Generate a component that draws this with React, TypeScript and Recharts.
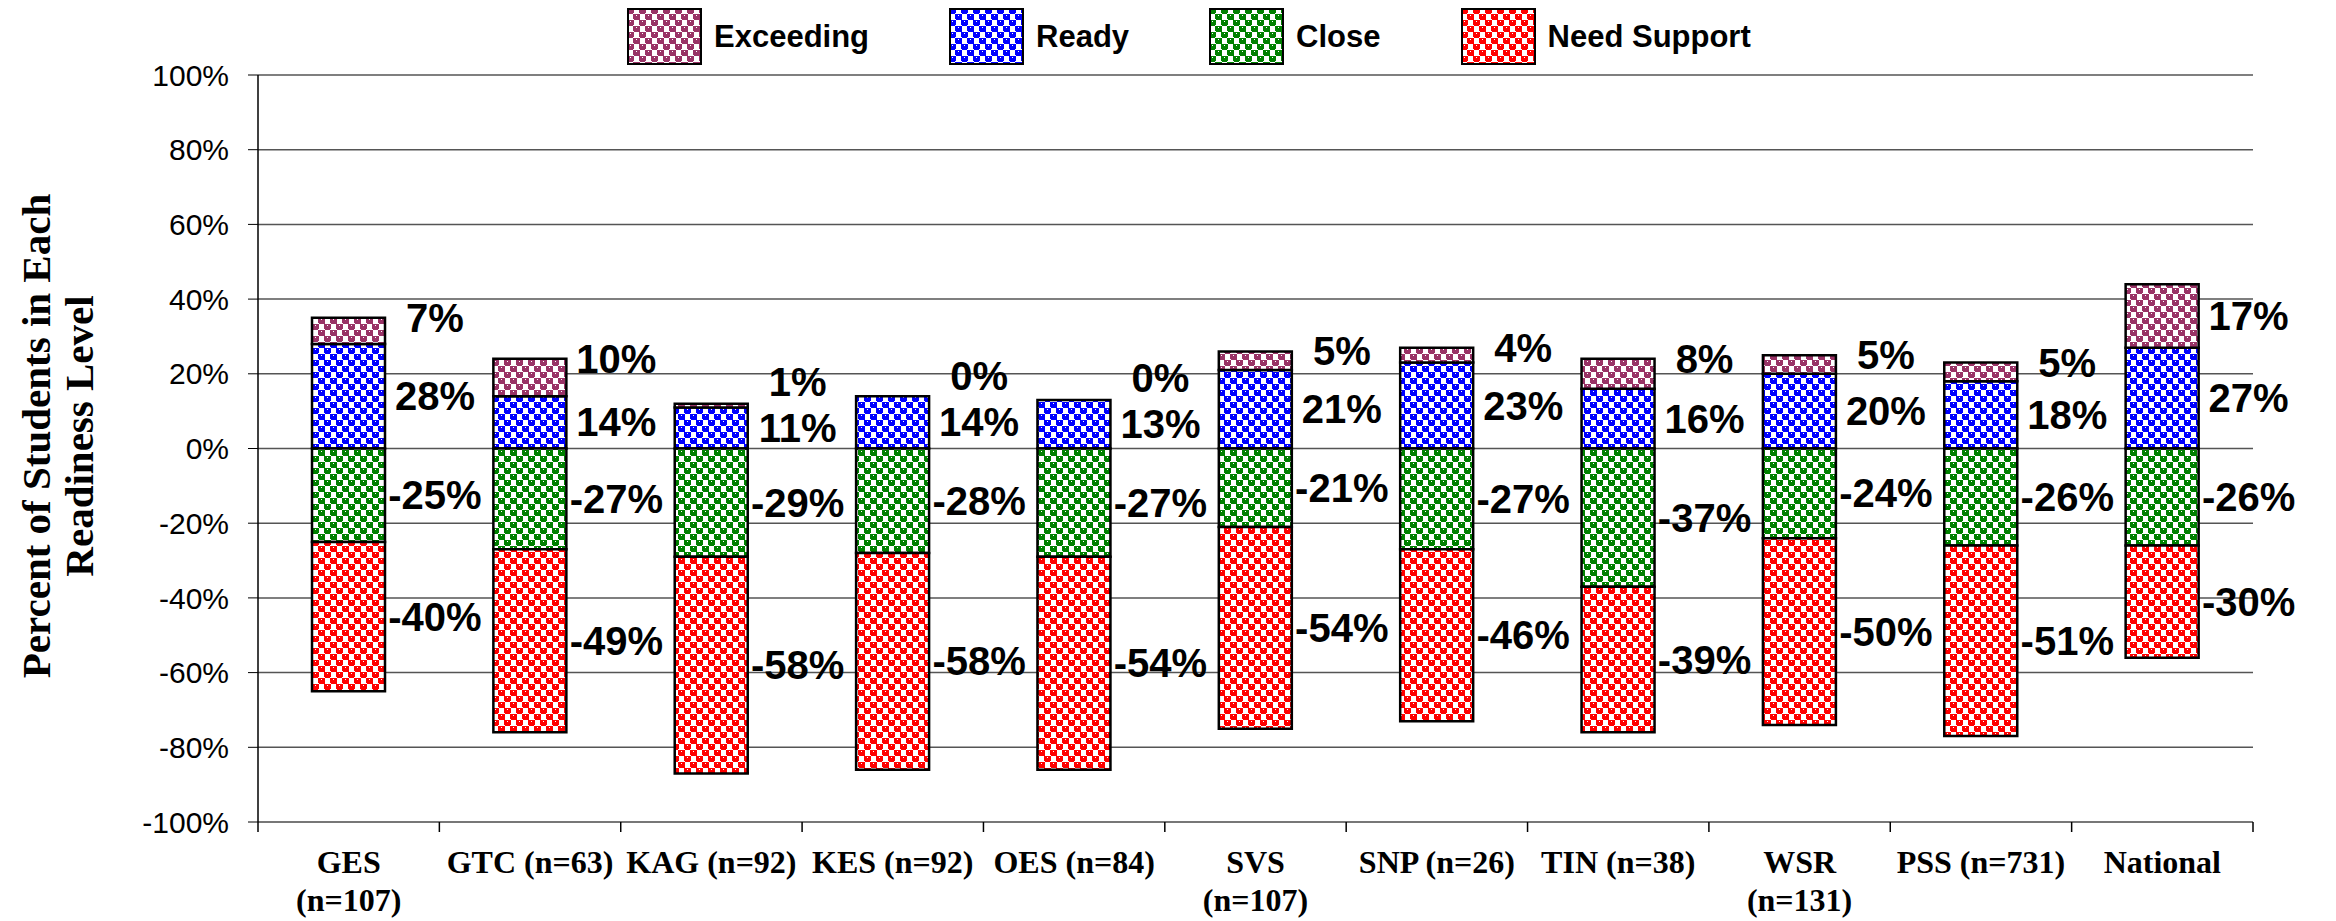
import React from "react";
import { Bar, BarChart, CartesianGrid, LabelList, XAxis, YAxis } from "recharts";

document.body.style.margin = "0";

const categories = [
  "GES\n(n=107)",
  "GTC (n=63)",
  "KAG (n=92)",
  "KES (n=92)",
  "OES (n=84)",
  "SVS\n(n=107)",
  "SNP (n=26)",
  "TIN (n=38)",
  "WSR\n(n=131)",
  "PSS (n=731)",
  "National",
];

const exceeding = [7, 10, 1, 0, 0, 5, 4, 8, 5, 5, 17];
const ready = [28, 14, 11, 14, 13, 21, 23, 16, 20, 18, 27];
const close = [-25, -27, -29, -28, -29, -21, -27, -37, -24, -26, -26];
const needSupport = [-40, -49, -58, -58, -57, -54, -46, -39, -50, -51, -30];

// printed labels (OES labels don't match its bar lengths in the source)
const closeShown = [-25, -27, -29, -28, -27, -21, -27, -37, -24, -26, -26];
const needShown = [-40, -49, -58, -58, -54, -54, -46, -39, -50, -51, -30];

const yTicks = [-100, -80, -60, -40, -20, 0, 20, 40, 60, 80, 100];

const W = 2336;
const H = 921;
const M = { top: 75, right: 83, bottom: 0, left: 0 };
const Y_AXIS_W = 258;
const X_AXIS_H = 99;
const PLOT_TOP = M.top;
const PLOT_BOTTOM = H - X_AXIS_H;
const ZERO_Y = (PLOT_TOP + PLOT_BOTTOM) / 2;
const BAND = (W - Y_AXIS_W - M.right) / categories.length;

const SANS = '"Liberation Sans", Arial, sans-serif';
const SERIF = '"Liberation Serif", "Times New Roman", serif';

const series = [
  { key: "ready", name: "Ready", color: "#0000FF", shown: ready },
  { key: "exceeding", name: "Exceeding", color: "#993366", shown: exceeding },
  { key: "close", name: "Close", color: "#008000", shown: closeShown },
  { key: "need", name: "Need Support", color: "#FF0000", shown: needShown },
];
const legendOrder = ["exceeding", "ready", "close", "need"];

const data = categories.map((name, i) => ({
  name,
  exceeding: exceeding[i],
  ready: ready[i],
  close: close[i],
  need: needSupport[i],
}));

function PatternDefs() {
  return (
    <svg width={0} height={0} style={{ position: "absolute" }}>
      <defs>
        {series.map((s) => (
          <pattern
            key={s.key}
            id={`pat-${s.key}`}
            width={12}
            height={12}
            patternUnits="userSpaceOnUse"
          >
            <rect width={12} height={12} fill="#fff" />
            <path
              d="M0 0h7v5h-7z M1 5h5v1h-5z M6 6h6v5h-6z M0 6h1v5h-1z M7 11h5v1h-5z M0 11h1v1h-1z"
              fill={s.color}
            />
            <path d="M3 1h1v1h-1z M9 7h1v1h-1z" fill="#fff" />
          </pattern>
        ))}
      </defs>
    </svg>
  );
}

function DataText({ x, y, text }: { x: number; y: number; text: string }) {
  return (
    <text
      x={x}
      y={y}
      textAnchor="middle"
      dominantBaseline="central"
      fontFamily={SANS}
      fontWeight="bold"
      fontSize={40}
      fill="#000"
    >
      {text}
    </text>
  );
}

// where the Exceeding label sits, given the top of the stack and the top of Ready
function exceedLabelY(i: number, top: number, readyTop: number) {
  let cy = exceeding[i] < 12 ? top : (top + readyTop) / 2;
  const readyMid = (readyTop + ZERO_Y) / 2;
  if (readyMid - cy < 46) cy = readyMid - 46;
  return cy;
}

function makeLabel(key: string, shown: number[]) {
  return (props: any) => {
    const x = Number(props.x);
    const y = Number(props.y);
    const w = Number(props.width);
    const h = Number(props.height);
    const i = Math.floor((x + w / 2 - Y_AXIS_W) / BAND);
    const top = Math.min(y, y + h);
    const bottom = Math.max(y, y + h);
    const lx = x + w + 50;
    if (key === "exceeding") {
      return <DataText x={lx} y={exceedLabelY(i, top, bottom)} text={`${shown[i]}%`} />;
    }
    return (
      <g>
        <DataText x={lx} y={(top + bottom) / 2} text={`${shown[i]}%`} />
        {key === "ready" && exceeding[i] === 0 && (
          <DataText x={lx} y={exceedLabelY(i, top, top)} text={`${exceeding[i]}%`} />
        )}
      </g>
    );
  };
}

function CategoryTick(props: any) {
  const { x, y, payload, index } = props;
  const lines = String(payload.value).split("\n");
  const half = BAND / 2;
  return (
    <g>
      <line x1={x - half} x2={x - half} y1={y} y2={y + 10} stroke="#000" strokeWidth={1.5} />
      {index === categories.length - 1 && (
        <line x1={x + half} x2={x + half} y1={y} y2={y + 10} stroke="#000" strokeWidth={1.5} />
      )}
      <text
        x={x}
        y={y + 51}
        textAnchor="middle"
        fontFamily={SERIF}
        fontWeight="bold"
        fontSize={32}
        fill="#000"
      >
        {lines.map((l, k) => (
          <tspan key={k} x={x} dy={k === 0 ? 0 : 38}>
            {l}
          </tspan>
        ))}
      </text>
    </g>
  );
}

function YTitle() {
  const cy = 436;
  const style = { fontFamily: SERIF, fontWeight: "bold" as const, fontSize: 41, fill: "#000" };
  return (
    <g>
      <text
        x={36}
        y={cy}
        textAnchor="middle"
        dominantBaseline="central"
        transform={`rotate(-90 36 ${cy})`}
        {...style}
      >
        Percent of Students in Each
      </text>
      <text
        x={79}
        y={cy}
        textAnchor="middle"
        dominantBaseline="central"
        transform={`rotate(-90 79 ${cy})`}
        {...style}
      >
        Readiness Level
      </text>
    </g>
  );
}

function LegendRow() {
  return (
    <div
      style={{
        position: "absolute",
        top: 8,
        left: 627,
        display: "flex",
        alignItems: "center",
        gap: 80,
        fontFamily: SANS,
        fontWeight: "bold",
        fontSize: 31,
      }}
    >
      {legendOrder.map((k) => {
        const s = series.find((d) => d.key === k)!;
        return (
          <div key={k} style={{ display: "flex", alignItems: "center", gap: 12 }}>
            <svg width={75} height={57}>
              <rect x={1} y={1} width={73} height={55} fill={`url(#pat-${k})`} stroke="#000" strokeWidth={2} />
            </svg>
            <span>{s.name}</span>
          </div>
        );
      })}
    </div>
  );
}

export default function App() {
  return (
    <div style={{ position: "relative", width: W, height: H, background: "#fff" }}>
      <PatternDefs />
      <BarChart width={W} height={H} data={data} margin={M} stackOffset="sign">
        <CartesianGrid vertical={false} stroke="#555" strokeWidth={1.5} />
        <XAxis
          dataKey="name"
          interval={0}
          height={X_AXIS_H}
          tickSize={0}
          tickMargin={0}
          tickLine={false}
          axisLine={{ stroke: "#777", strokeWidth: 2 }}
          tick={<CategoryTick />}
        />
        <YAxis
          width={Y_AXIS_W}
          domain={[-100, 100]}
          ticks={yTicks}
          tickFormatter={(v) => `${v}%`}
          tickSize={10}
          tickMargin={19}
          tickLine={{ stroke: "#000" }}
          axisLine={{ stroke: "#000", strokeWidth: 1.5 }}
          tick={{ fill: "#000", fontSize: 30, fontFamily: SANS }}
          label={{ content: () => <YTitle /> }}
        />
        {series.map((s) => (
          <Bar
            key={s.key}
            dataKey={s.key}
            name={s.name}
            stackId="a"
            barSize={73}
            fill={`url(#pat-${s.key})`}
            stroke="#000"
            strokeWidth={2.5}
            isAnimationActive={false}
          >
            <LabelList dataKey={s.key} content={makeLabel(s.key, s.shown)} />
          </Bar>
        ))}
      </BarChart>
      <LegendRow />
    </div>
  );
}
